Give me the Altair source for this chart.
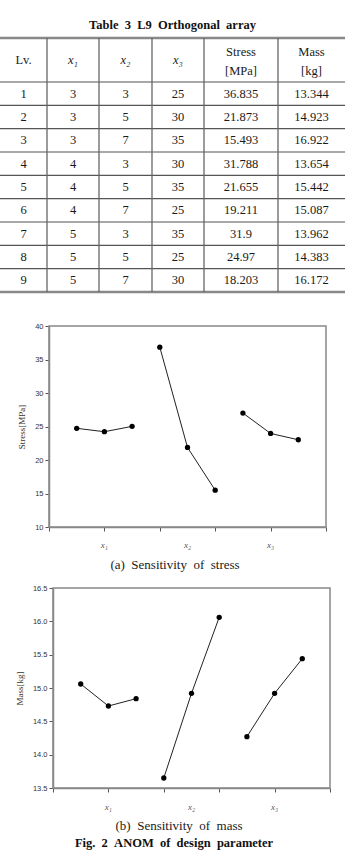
import altair as alt
import pandas as pd

# ---------------- data ----------------
LEVEL = [1, 2, 3, 4, 5, 6, 7, 8, 9]
X1 = [3, 3, 3, 4, 4, 4, 5, 5, 5]
X2 = [3, 5, 7, 3, 5, 7, 3, 5, 7]
X3 = [25, 30, 35, 30, 35, 25, 35, 25, 30]
STRESS = ["36.835", "21.873", "15.493", "31.788", "21.655", "19.211", "31.9", "24.97", "18.203"]
MASS = ["13.344", "14.923", "16.922", "13.654", "15.442", "15.087", "13.962", "14.383", "16.172"]

PARAMS = ["x₁", "x₂", "x₃"]
ANOM_POS = [1, 2, 3, 4, 5, 6, 7, 8, 9]
ANOM_GROUP = ["x1", "x1", "x1", "x2", "x2", "x2", "x3", "x3", "x3"]
ANOM_STRESS = [24.73, 24.22, 25.02, 36.84, 21.87, 15.49, 27.01, 23.96, 23.02]
ANOM_MASS = [15.06, 14.73, 14.84, 13.65, 14.92, 16.06, 14.27, 14.92, 15.44]
PARAM_POS = [2, 5, 8]

STRESS_TICKS = [10, 15, 20, 25, 30, 35, 40]
MASS_TICKS = [13.5, 14.0, 14.5, 15.0, 15.5, 16.0, 16.5]
X_TICKS = list(range(0, 11))

HEADER = ["Lv.", "x₁", "x₂", "x₃", "Stress", "Mass"]
HEADER2 = ["", "", "", "", "[MPa]", "[kg]"]

# ---------------- layout ----------------
W, H = 345, 851
COL_EDGES = [0, 47, 99, 152, 204, 278, 345]
SERIF = "Liberation Serif"
SANS = "Liberation Sans"
NB = "\u00a0"

col_centers = [(COL_EDGES[i] + COL_EDGES[i + 1]) / 2 for i in range(6)]

# table scales: x in table pixels, y in row units
tx = alt.Scale(domain=[0, 345], range=[0, 345])
ty = alt.Scale(domain=[-1.886, 9], range=[38, 292], nice=False, zero=False)

cells = []
cols = [LEVEL, X1, X2, X3, STRESS, MASS]
for r in range(9):
    for c in range(6):
        cells.append({"x": col_centers[c], "y": r + 0.5, "t": str(cols[c][r])})
cells_df = pd.DataFrame(cells)

head = []
for c in range(6):
    if HEADER2[c]:
        head.append({"x": col_centers[c], "y": -1.27, "t": HEADER[c], "it": False})
        head.append({"x": col_centers[c], "y": -0.46, "t": HEADER2[c], "it": False})
    else:
        head.append({"x": col_centers[c], "y": -0.94, "t": HEADER[c], "it": c in (1, 2, 3)})
head_df = pd.DataFrame(head)

hlines = pd.DataFrame({"y": [0, 1, 2, 3, 4, 5, 6, 7, 8], "x": 0, "x2": 345})
border = pd.DataFrame({"y": [-1.886, 9], "x": 0, "x2": 345})
vlines = pd.DataFrame({"x": COL_EDGES[1:-1], "y": -1.886, "y2": 9})
title_df = pd.DataFrame({"x": [172.5], "y": [-2.44],
                         "t": [f"Table{NB}{NB}3{NB}{NB}L9{NB}{NB}Orthogonal{NB}{NB}array"]})

tenc = dict(x=alt.X("x:Q", scale=tx, axis=None), y=alt.Y("y:Q", scale=ty, axis=None))

t_hl = alt.Chart(hlines).mark_rule(color="#555", strokeWidth=1.2).encode(
    x=alt.X("x:Q", scale=tx, axis=None), x2="x2:Q", y=alt.Y("y:Q", scale=ty, axis=None))
t_bd = alt.Chart(border).mark_rule(color="#888", strokeWidth=2.5).encode(
    x=alt.X("x:Q", scale=tx, axis=None), x2="x2:Q", y=alt.Y("y:Q", scale=ty, axis=None))
t_vl = alt.Chart(vlines).mark_rule(color="#666", strokeWidth=1.3).encode(
    x=alt.X("x:Q", scale=tx, axis=None), y=alt.Y("y:Q", scale=ty, axis=None), y2="y2:Q")
t_cells = alt.Chart(cells_df).mark_text(font=SERIF, fontSize=12.5, color="#1a1a1a", baseline="middle").encode(
    text="t:N", **tenc)
t_head = alt.Chart(head_df[~head_df["it"]]).mark_text(font=SERIF, fontSize=12.5, color="#1a1a1a", baseline="middle").encode(
    text="t:N", **tenc)
t_head_it = alt.Chart(head_df[head_df["it"]]).mark_text(font=SERIF, fontSize=12.5, fontStyle="italic", color="#1a1a1a", baseline="middle").encode(
    text="t:N", **tenc)
t_title = alt.Chart(title_df).mark_text(font=SERIF, fontSize=12.5, fontWeight="bold", color="#111", baseline="middle").encode(
    text="t:N", **tenc)

table = alt.layer(t_hl, t_bd, t_vl, t_cells, t_head, t_head_it, t_title)


def anom_panel(values, ticks, xr, yr, ytitle, fmt, label_y, caption, caption_y):
    df = pd.DataFrame({"pos": ANOM_POS, "grp": ANOM_GROUP, "v": values})
    xs = alt.Scale(domain=[0, 10], range=xr, nice=False, zero=False)
    ys = alt.Scale(domain=[ticks[0], ticks[-1]], range=yr, nice=False, zero=False)
    xaxis = alt.Axis(orient="bottom", offset=yr[0] - H, values=X_TICKS, labels=False, title=None,
                     grid=False, domainColor="#888", domainWidth=1.5, tickColor="#555",
                     tickSize=4, tickWidth=1)
    yaxis = alt.Axis(orient="left", offset=-xr[0], values=ticks, format=fmt, title=ytitle,
                     grid=False, domainColor="#888", domainWidth=1.5, tickColor="#555",
                     tickSize=4, tickWidth=1, labelFont=SANS, labelFontSize=7.5,
                     labelColor="#333", labelPadding=2, titleFont=SERIF, titleFontSize=9,
                     titleFontWeight="normal", titleColor="#333", titlePadding=8)
    frame_df = pd.DataFrame({"x": [0], "x2": [10], "y": [ticks[0]], "y2": [ticks[-1]]})
    frame = alt.Chart(frame_df).mark_rect(fill=None, stroke="#888", strokeWidth=1.5).encode(
        x=alt.X("x:Q", scale=xs, axis=xaxis), x2="x2:Q",
        y=alt.Y("y:Q", scale=ys, axis=yaxis), y2="y2:Q")
    line = alt.Chart(df).mark_line(color="#222", strokeWidth=1).encode(
        x=alt.X("pos:Q", scale=xs), y=alt.Y("v:Q", scale=ys), detail="grp:N")
    pts = alt.Chart(df).mark_circle(color="#000", size=28, opacity=1).encode(
        x=alt.X("pos:Q", scale=xs), y=alt.Y("v:Q", scale=ys))
    lab_df = pd.DataFrame({"pos": PARAM_POS, "t": PARAMS})
    lab_df["v"] = label_y
    labs = alt.Chart(lab_df).mark_text(font=SERIF, fontSize=9, fontStyle="italic", color="#555", baseline="middle").encode(
        x=alt.X("pos:Q", scale=xs), y=alt.Y("v:Q", scale=ys), text="t:N")
    cap_df = pd.DataFrame({"pos": [4.55], "v": [caption_y], "t": [caption]})
    cap = alt.Chart(cap_df).mark_text(font=SERIF, fontSize=13, color="#1a1a1a", baseline="middle").encode(
        x=alt.X("pos:Q", scale=xs), y=alt.Y("v:Q", scale=ys), text="t:N")
    return alt.layer(frame, line, pts, labs, cap)


stress_panel = anom_panel(
    ANOM_STRESS, STRESS_TICKS, [49, 326], [527, 326], "Stress[MPa]", "d",
    10 - 18 / 6.7, f"(a){NB}{NB}Sensitivity{NB}{NB}of{NB}{NB}stress", 10 - 38 / 6.7)

mass_panel = anom_panel(
    ANOM_MASS, MASS_TICKS, [53, 330], [788, 588], "Mass[kg]", ".1f",
    13.5 - 19 / 66.7, f"(b){NB}{NB}Sensitivity{NB}{NB}of{NB}{NB}mass", 13.5 - 38 / 66.7)

fig_df = pd.DataFrame({"x": [174], "y": [9 + (843 - 292) / 23.33],
                       "t": [f"Fig.{NB}{NB}2{NB}{NB}ANOM{NB}{NB}of{NB}{NB}design{NB}{NB}parameter"]})
fig_ty = alt.Scale(domain=[-1.886, 9], range=[38, 292], nice=False, zero=False)
fig_cap = alt.Chart(fig_df).mark_text(font=SERIF, fontSize=12.5, fontWeight="bold", color="#111", baseline="middle").encode(
    x=alt.X("x:Q", scale=tx, axis=None), y=alt.Y("y:Q", scale=fig_ty, axis=None), text="t:N")

table_all = alt.layer(table, fig_cap)

chart = alt.layer(table_all, stress_panel, mass_panel).resolve_scale(
    x="independent", y="independent"
).properties(
    width=W, height=H, autosize=alt.AutoSizeParams(type="none"), padding=0,
    background="white"
).configure_view(stroke=None)

chart.save("out.html", embed_options={"renderer": "svg", "actions": False})
